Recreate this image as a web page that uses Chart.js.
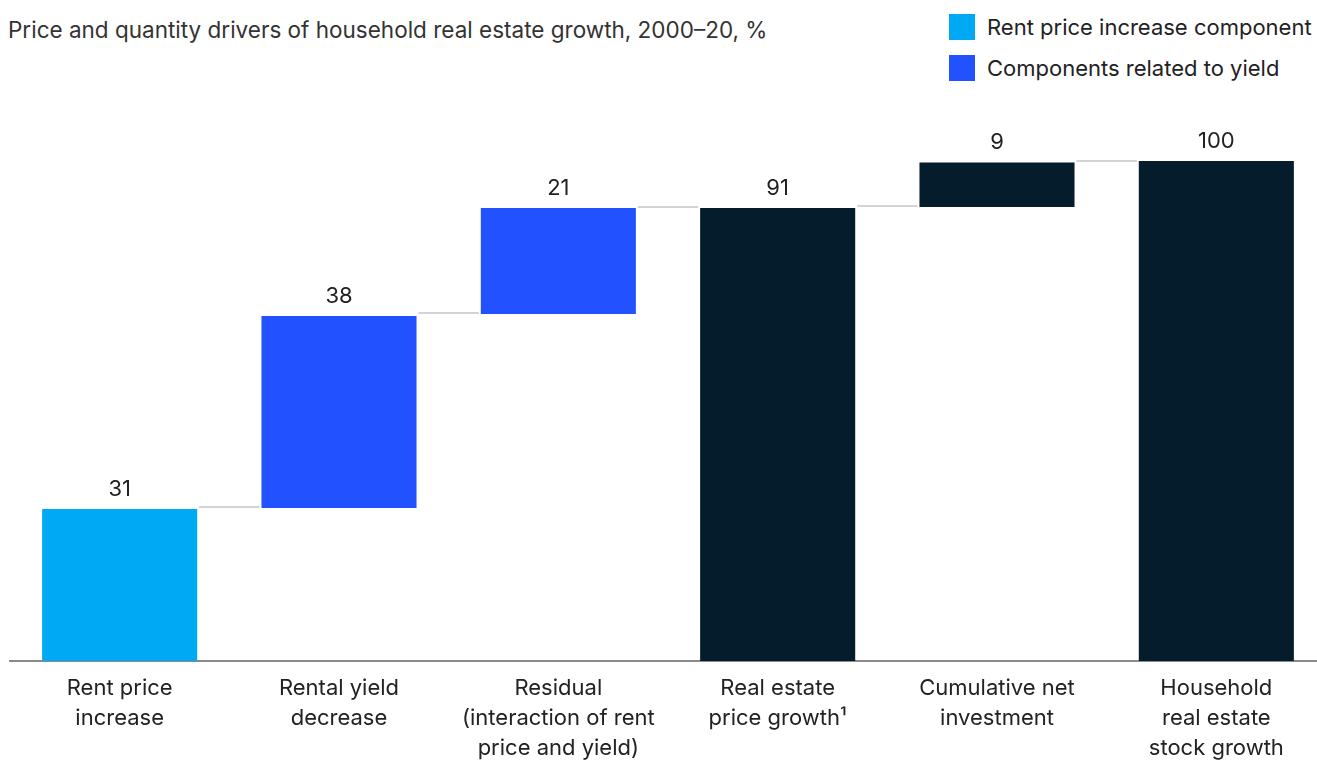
<!DOCTYPE html>
<html>
<head>
<meta charset="utf-8">
<script src="https://cdn.jsdelivr.net/npm/chart.js@4.4.1/dist/chart.umd.min.js"></script>
<style>
  html, body { margin: 0; padding: 0; background: #fff; overflow: hidden; }
  body { width: 1317px; height: 760px; position: relative; font-family: Inter, "Liberation Sans", sans-serif; color: #222; }
  #title { position: absolute; left: 8px; top: 16px; font-size: 22.5px; line-height: 28px; color: #333; white-space: nowrap; }
  .leg { position: absolute; left: 949px; font-size: 22px; line-height: 26px; color: #222; white-space: nowrap; }
  .leg span { display: inline-block; width: 26px; height: 26px; vertical-align: top; margin-right: 12px; }
  #wrap { position: absolute; left: 0; top: 0; width: 1326px; height: 775px; }
</style>
</head>
<body>
<div id="title">Price and quantity drivers of household real estate growth, 2000–20, %</div>
<div class="leg" style="top:14px"><span style="background:#00A9F4"></span>Rent price increase component</div>
<div class="leg" style="top:55px"><span style="background:#2251FF"></span>Components related to yield</div>
<div id="wrap"><canvas id="wf"></canvas></div>
<script>
// Waterfall: categories, bar start/end, printed values
const categories = [
    ['Rent price', 'increase'],
    ['Rental yield', 'decrease'],
    ['Residual', '(interaction of rent', 'price and yield)'],
    ['Real estate', 'price growth¹'],
    ['Cumulative net', 'investment'],
    ['Household', 'real estate', 'stock growth']
];
const barStart = [0, 30.6, 69.4, 0, 90.8, 0];
const barEnd = [30.4, 69, 90.6, 90.6, 99.7, 100];
const valueLabels = ['31', '38', '21', '91', '9', '100'];
const barColors = ['#00A9F4', '#2251FF', '#2251FF', '#051C2C', '#051C2C', '#051C2C'];

const FONT = 'Inter, "Liberation Sans", sans-serif';

// connectors between bars + value labels above bars
const waterfallExtras = {
    id: 'waterfallExtras',
    afterDatasetsDraw(chart) {
        const ctx = chart.ctx;
        const meta = chart.getDatasetMeta(0);
        const y = chart.scales.y;
        ctx.save();
        ctx.strokeStyle = '#d3d3d3';
        ctx.lineWidth = 2;
        for (let i = 0; i < meta.data.length - 1; i++) {
            const a = meta.data[i], b = meta.data[i + 1];
            const level = barStart[i + 1] > 0 ? barStart[i + 1] : barEnd[i];
            const py = Math.round(y.getPixelForValue(level)) - 1;
            ctx.beginPath();
            ctx.moveTo(a.x + a.width / 2 + 2, py);
            ctx.lineTo(b.x - b.width / 2 - 2, py);
            ctx.stroke();
        }
        ctx.fillStyle = '#222';
        ctx.font = '22px ' + FONT;
        ctx.textAlign = 'center';
        ctx.textBaseline = 'middle';
        meta.data.forEach((bar, i) => {
            const top = y.getPixelForValue(barEnd[i]);
            ctx.fillText(valueLabels[i], bar.x, top - 20);
        });
        ctx.restore();
    }
};

new Chart(document.getElementById('wf').getContext('2d'), {
    type: 'bar',
    data: {
        labels: categories,
        datasets: [{
            data: barStart.map((s, i) => [s, barEnd[i]]),
            backgroundColor: barColors,
            borderWidth: 0,
            categoryPercentage: 1,
            barPercentage: 0.707,
        }]
    },
    options: {
        responsive: true,
        maintainAspectRatio: false,
        animation: false,
        layout: { padding: { top: 161, left: 10, right: 0, bottom: 0 } },
        plugins: {
            legend: { display: false },
            tooltip: { enabled: false },
        },
        scales: {
            x: {
                grid: { display: false, drawTicks: false },
                border: { display: true, color: '#8a8a8a', width: 2 },
                ticks: { color: '#222', font: { family: FONT, size: 22, lineHeight: 1.364 }, padding: 12, maxRotation: 0, autoSkip: false },
            },
            y: {
                display: false,
                min: 0,
                max: 100,
            }
        }
    },
    plugins: [waterfallExtras]
});
</script>
</body>
</html>
